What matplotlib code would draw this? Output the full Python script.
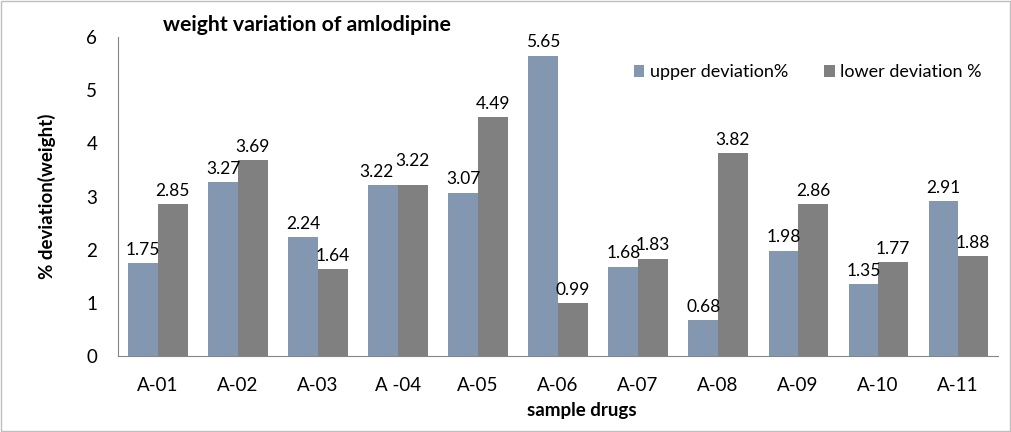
import numpy as np
import matplotlib.pyplot as plt
from matplotlib.patches import Rectangle

samples = ['A-01', 'A-02', 'A-03', 'A -04', 'A-05', 'A-06', 'A-07', 'A-08', 'A-09', 'A-10', 'A-11']
upper = [1.75, 3.27, 2.24, 3.22, 3.07, 5.65, 1.68, 0.68, 1.98, 1.35, 2.91]
lower = [2.85, 3.69, 1.64, 3.22, 4.49, 0.99, 1.83, 3.82, 2.86, 1.77, 1.88]

plt.rcParams['font.family'] = ['Lato', 'DejaVu Sans']

fig = plt.figure(figsize=(10.11, 4.32), dpi=100)
ax = fig.add_axes([0.1167, 0.1759, 0.8706, 0.7384])

x = np.arange(len(samples))
w = 0.37
b1 = ax.bar(x - w / 2, upper, w, color='#8497b0', label='upper deviation%')
b2 = ax.bar(x + w / 2, lower, w, color='#808080', label='lower deviation %')

for i, (u, l) in enumerate(zip(upper, lower)):
    # Excel staggers labels when a pair collides (A-04)
    clash = abs(u - l) < 0.15
    ax.text(x[i] - w / 2 - (0.08 if clash else 0), u + 0.1, f'{u:.2f}',
            ha='center', va='bottom', fontsize=12.5)
    ax.text(x[i] + w / 2, l + 0.1 + (0.2 if clash else 0), f'{l:.2f}',
            ha='center', va='bottom', fontsize=12.5)

ax.set_xlim(-0.5, len(samples) - 0.5)
ax.set_ylim(0, 6)
ax.set_xticks(x)
ax.set_xticklabels(samples, fontsize=13.5)
ax.set_yticks(range(7))
ax.tick_params(axis='y', labelsize=13.5, length=0, pad=15)
ax.tick_params(axis='x', length=0, pad=15)
for s in ('top', 'right'):
    ax.spines[s].set_visible(False)
ax.spines['left'].set_color('#868686')
ax.spines['bottom'].set_color('#868686')

ax.set_xlabel('sample drugs', fontsize=13.5, fontweight='bold')
ax.xaxis.set_label_coords(0.527, -0.145)
ax.set_ylabel('% deviation(weight)', fontsize=13.5, fontweight='bold', labelpad=22)
ax.text(0.051, 1.037, 'weight variation of amlodipine', transform=ax.transAxes,
        fontsize=15.3, fontweight='bold', va='center')

ax.legend(loc='upper right', bbox_to_anchor=(1.0, 0.965), ncol=2, frameon=False,
          fontsize=13, handlelength=0.6, handleheight=0.6, handletextpad=0.3,
          columnspacing=2.0)

fig.patches.append(Rectangle((0.001, 0.002), 0.998, 0.996, transform=fig.transFigure,
                             fill=False, edgecolor='#bfbfbf', linewidth=1))

fig.savefig('out.png', dpi=100)
